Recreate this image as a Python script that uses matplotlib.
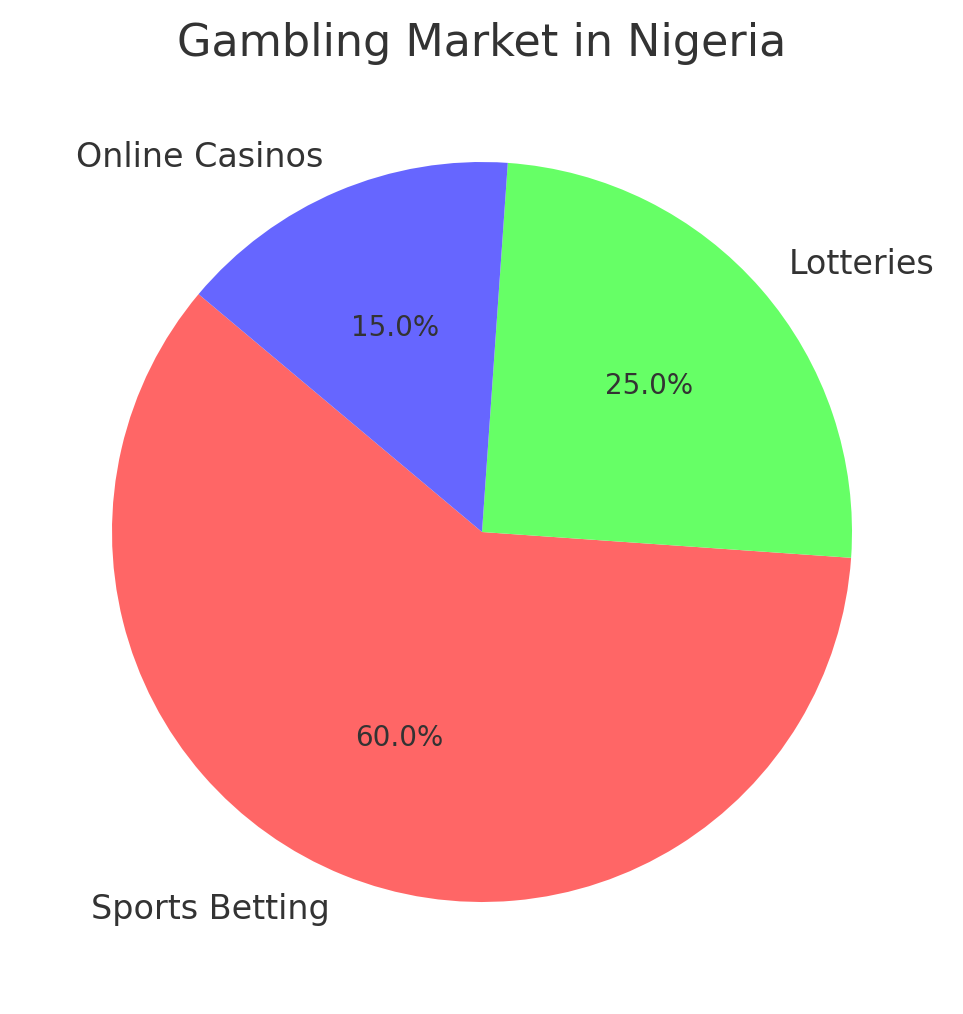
import matplotlib
matplotlib.use("Agg")
import matplotlib.pyplot as plt

labels = ["Sports Betting", "Lotteries", "Online Casinos"]
shares = [60, 25, 15]
colors = ["#ff6666", "#66ff66", "#6666ff"]
title = "Gambling Market in Nigeria"

plt.rcParams["font.family"] = ["DejaVu Sans"]
plt.rcParams["text.color"] = "#333333"

W, H, DPI = 963, 1014, 200
fig = plt.figure(figsize=(W / DPI, H / DPI), dpi=DPI)
R = 370.0
cx, cy = 482.0, 1014 - 532.0
side = 2.5 * R
ax = fig.add_axes([(cx - side / 2) / W, (cy - side / 2) / H, side / W, side / H])

ax.pie(shares, labels=labels, colors=colors, autopct="%1.1f%%", startangle=140,
       textprops={"color": "#333333"})
for t in ax.texts:
    pass
# label font sizes
wedges_texts = ax.texts
for t in wedges_texts:
    if t.get_text() in labels:
        t.set_fontsize(12)
    else:
        t.set_fontsize(10)
ax.set_xlim(-1.25, 1.25)
ax.set_ylim(-1.25, 1.25)
ax.set_aspect("equal")
ax.set_title(title, fontsize=16, color="#333333", pad=5)

fig.savefig("out.png", dpi=DPI)
